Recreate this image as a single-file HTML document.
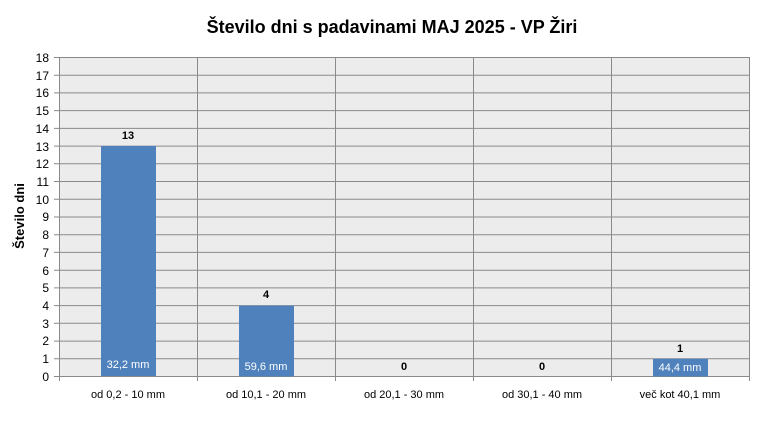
<html><body style="margin:0;background:#fff">
<svg width="770" height="439" xmlns="http://www.w3.org/2000/svg" font-family="Liberation Sans, sans-serif">
<rect width="770" height="439" fill="#fff"/>
<text x="392" y="33" text-anchor="middle" font-size="18" font-weight="bold">Število dni s padavinami  MAJ 2025 - VP Žiri</text>
<rect x="59" y="57" width="690" height="319" fill="#ececec"/>
<g stroke="#8a8a8a" stroke-width="1">
<line x1="54" y1="57.5" x2="749" y2="57.5"/><line x1="54" y1="75.2" x2="749" y2="75.2"/><line x1="54" y1="92.9" x2="749" y2="92.9"/><line x1="54" y1="110.6" x2="749" y2="110.6"/><line x1="54" y1="128.4" x2="749" y2="128.4"/><line x1="54" y1="146.1" x2="749" y2="146.1"/><line x1="54" y1="163.8" x2="749" y2="163.8"/><line x1="54" y1="181.5" x2="749" y2="181.5"/><line x1="54" y1="199.3" x2="749" y2="199.3"/><line x1="54" y1="217" x2="749" y2="217"/><line x1="54" y1="234.7" x2="749" y2="234.7"/><line x1="54" y1="252.4" x2="749" y2="252.4"/><line x1="54" y1="270.2" x2="749" y2="270.2"/><line x1="54" y1="287.9" x2="749" y2="287.9"/><line x1="54" y1="305.6" x2="749" y2="305.6"/><line x1="54" y1="323.3" x2="749" y2="323.3"/><line x1="54" y1="341.1" x2="749" y2="341.1"/><line x1="54" y1="358.8" x2="749" y2="358.8"/><line x1="54" y1="376.5" x2="749" y2="376.5"/>
<line x1="59.5" y1="57" x2="59.5" y2="381"/><line x1="197.5" y1="57" x2="197.5" y2="381"/><line x1="335.5" y1="57" x2="335.5" y2="381"/><line x1="473.5" y1="57" x2="473.5" y2="381"/><line x1="611.5" y1="57" x2="611.5" y2="381"/><line x1="749.5" y1="57" x2="749.5" y2="381"/>
</g>
<g fill="#4f81bd">
<rect x="101" y="146" width="55" height="230"/>
<rect x="239" y="305.6" width="55" height="70.9"/>
<rect x="653" y="358.8" width="55" height="17.7"/>
</g>
<g font-size="12" text-anchor="end">
<text x="49" y="62">18</text><text x="49" y="80">17</text><text x="49" y="97">16</text><text x="49" y="115">15</text><text x="49" y="133">14</text><text x="49" y="151">13</text><text x="49" y="168">12</text><text x="49" y="186">11</text><text x="49" y="204">10</text><text x="49" y="221">9</text><text x="49" y="239">8</text><text x="49" y="257">7</text><text x="49" y="275">6</text><text x="49" y="292">5</text><text x="49" y="310">4</text><text x="49" y="328">3</text><text x="49" y="345">2</text><text x="49" y="363">1</text><text x="49" y="381">0</text>
</g>
<g font-size="11" font-weight="bold" text-anchor="middle">
<text x="128" y="139">13</text><text x="266" y="298">4</text><text x="404" y="370">0</text><text x="542" y="370">0</text><text x="680" y="352">1</text>
</g>
<g font-size="11" fill="#fff" text-anchor="middle">
<text x="128" y="368">32,2 mm</text><text x="266" y="370">59,6 mm</text><text x="680" y="371">44,4 mm</text>
</g>
<g font-size="11" text-anchor="middle">
<text x="128" y="398">od 0,2 - 10 mm</text><text x="266" y="398">od 10,1 - 20 mm</text><text x="404" y="398">od 20,1 - 30 mm</text><text x="542" y="398">od 30,1 - 40 mm</text><text x="680" y="398">več kot 40,1 mm</text>
</g>
<text transform="translate(24,216) rotate(-90)" text-anchor="middle" font-size="13" font-weight="bold">Število dni</text>
</svg>
</body></html>
